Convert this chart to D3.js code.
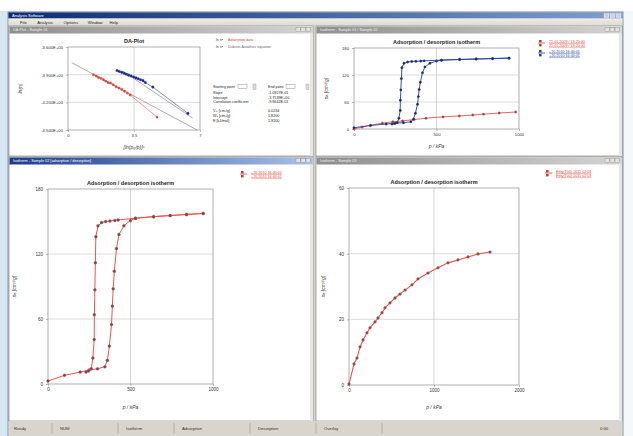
<!DOCTYPE html>
<html>
<head>
<meta charset="utf-8">
<script src="https://cdn.jsdelivr.net/npm/d3@7"></script>
<style>
  body { margin: 0; background: #fff; }
  svg { display: block; font-family: "Liberation Sans", "DejaVu Sans", sans-serif; }
</style>
</head>
<body>
<div id="chart"></div>
<script>
// ---- data ----
// DA plot: x = [ln(p0/p)]^n, y = ln(n)
const daRed = [[1.35,-3.90],[1.5,-3.915],[1.62,-3.93],[1.75,-3.94],[1.88,-3.955],[2.0,-3.97],[2.12,-3.985],
  [2.25,-3.99],[2.4,-4.01],[2.55,-4.03],[2.7,-4.045],[2.85,-4.06],[3.0,-4.08],[3.15,-4.10],[3.3,-4.12],[4.72,-4.36]];
const daBlue = [[2.6,-3.855],[2.72,-3.865],[2.85,-3.875],[2.98,-3.885],[3.1,-3.895],[3.22,-3.905],[3.35,-3.915],
  [3.48,-3.925],[3.6,-3.935],[3.72,-3.945],[3.85,-3.955],[3.98,-3.965],[4.1,-3.985],[4.5,-4.035],[6.36,-4.32]];
const daFitLong = [[0.2,-3.77],[6.85,-4.50]];
const daFitBlue = [[2.9,-3.86],[6.6,-4.37]];
const daXTicks = [0, 3.5, 7];
const daYTicks = [-3.6, -3.9, -4.2, -4.5];

// Isotherm 1 (p / kPa, n_a / cm3 g-1)
const iso1Ads = [[0,2.8],[100,8],[195,11],[250,13],[300,14],[345,16],[360,22],[372,35],[385,55],[390,72],[395,88],
  [402,104],[415,125],[430,138],[460,146],[500,151],[530,153],[640,154.5],[740,155.5],[840,156.5],[940,157.5]];
const iso1Des = [[940,157.5],[840,156.5],[740,155.5],[640,154.5],[530,153],[425,151.5],[405,151],[375,150.5],
  [350,150],[325,149],[303,146],[290,136],[287,112],[284,87],[281,64],[280,41],[272,24],[262,14],[245,12],[230,11]];
// Isotherm 2 (top right, red)
const iso2 = [[0,0],[50,4.4],[100,8],[172,13],[235,16],[294,18],[365,21],[436,24],[540,27],[638,29],[720,31],
  [785,33],[880,35.5],[980,37.8]];
// Isotherm 3 (bottom right)
const iso3 = [[0,0.3],[59,6.4],[94,8.2],[130,11.6],[165,13.7],[212,15.9],[247,17.4],[306,19.2],[341,20.4],
  [388,22],[424,23.5],[482,25],[541,26.5],[600,27.7],[660,28.9],[741,30.5],[812,32.3],[929,34.1],[1047,35.7],
  [1165,37.2],[1282,38.1],[1400,39.0],[1518,39.9],[1659,40.5]];

const isoXTicks = [0, 500, 1000];
const isoYTicks = [0, 60, 120, 180];
const iso3XTicks = [0, 1000, 2000];
const iso3YTicks = [0, 20, 40, 60];

const menuItems = ["File", "Analysis", "Options", "Window", "Help"];
const statsLabels = ["Slope", "Intercept", "Correlation coefficient", "", "V\u2098 [cm\u00b3/g]", "W\u2080 [cm\u00b3/g]", "E [kJ/mol]"];
const statsValues = ["-1.0927E-01", "-3.7539E+00", "-9.9642E-01", "", "0.0234", "1.8200", "1.9200"];
const statusItems = ["Ready", "NUM", "Isotherm", "Adsorption", "Desorption", "Overlay"];

const W = 633, H = 436;
const svg = d3.select("#chart").append("svg").attr("width", W).attr("height", H);
const defs = svg.append("defs");

function grad(id, c1, c2, vertical) {
  const g = defs.append("linearGradient").attr("id", id)
    .attr("x1", 0).attr("y1", 0).attr("x2", vertical ? 0 : 1).attr("y2", vertical ? 1 : 0);
  g.append("stop").attr("offset", "0%").attr("stop-color", c1);
  g.append("stop").attr("offset", "100%").attr("stop-color", c2);
}
grad("bgGrad", "#d6e6f3", "#f4f8fb", false);
grad("winTitle", "#0d2a72", "#7f9fcf", false);
grad("activeTitle", "#1c3c8a", "#a8c2e6", false);
grad("inactiveTitle", "#8e8e8e", "#d4d4d4", false);
grad("menuGrad", "#eeede6", "#dcdad0", true);

// background around the window
svg.append("rect").attr("width", W).attr("height", H).attr("fill", "url(#bgGrad)");
svg.append("rect").attr("width", W).attr("height", 11).attr("fill", "#ffffff");

// main window
svg.append("rect").attr("x", 8).attr("y", 12).attr("width", 615).attr("height", 424)
  .attr("fill", "#d4d0c8").attr("stroke", "#6a7a96").attr("stroke-width", 0.8);
svg.append("rect").attr("x", 8.5).attr("y", 12.5).attr("width", 614).attr("height", 6).attr("fill", "url(#winTitle)");
svg.append("text").attr("x", 12).attr("y", 17.2).attr("font-size", 4).attr("fill", "#fff").text("Analysis Software");
["#c9d3e6", "#c9d3e6", "#c9d3e6"].forEach((c, i) => {
  svg.append("rect").attr("x", 604 + i * 6).attr("y", 13.5).attr("width", 5).attr("height", 4.2)
    .attr("fill", c).attr("stroke", "#fff").attr("stroke-width", 0.3);
});
svg.append("rect").attr("x", 8.5).attr("y", 18.5).attr("width", 614).attr("height", 7).attr("fill", "url(#menuGrad)");
let mx = 20;
menuItems.forEach(m => {
  svg.append("text").attr("x", mx).attr("y", 23.7).attr("font-size", 4.2).attr("fill", "#222").text(m);
  mx += m.length * 2.3 + 8;
});

// MDI child panels
const panels = [
  { x: 9, y: 26, w: 304, h: 130, active: false, title: "DA-Plot - Sample 01" },
  { x: 316, y: 26, w: 306, h: 130, active: false, title: "Isotherm - Sample 01 / Sample 02" },
  { x: 9, y: 157, w: 304, h: 264, active: true, title: "Isotherm - Sample 02 [adsorption / desorption]" },
  { x: 316, y: 157, w: 306, h: 264, active: false, title: "Isotherm - Sample 03" }
];
panels.forEach(p => {
  svg.append("rect").attr("x", p.x).attr("y", p.y).attr("width", p.w).attr("height", p.h)
    .attr("fill", "#ffffff").attr("stroke", "#9a9a9a").attr("stroke-width", 0.8);
  svg.append("rect").attr("x", p.x + 0.5).attr("y", p.y + 0.5).attr("width", p.w - 1).attr("height", 7)
    .attr("fill", p.active ? "url(#activeTitle)" : "url(#inactiveTitle)");
  svg.append("text").attr("x", p.x + 4).attr("y", p.y + 5.4).attr("font-size", 3.8)
    .attr("fill", p.active ? "#fff" : "#eee").text(p.title);
  for (let i = 0; i < 3; i++) {
    svg.append("rect").attr("x", p.x + p.w - 17 + i * 5).attr("y", p.y + 1.5).attr("width", 4.2).attr("height", 4)
      .attr("fill", "#e4e2dc").attr("stroke", "#777").attr("stroke-width", 0.3);
  }
  // right window border strip
  svg.append("rect").attr("x", p.x + p.w - 3).attr("y", p.y + 8).attr("width", 3).attr("height", p.h - 8)
    .attr("fill", "#e8e6e0");
});

// status bar
svg.append("rect").attr("x", 8.5).attr("y", 421).attr("width", 614).attr("height", 15).attr("fill", "#d8d5cc");
let sx = 12;
const statusW = [40, 60, 50, 70, 60, 60];
statusItems.forEach((s, i) => {
  svg.append("text").attr("x", sx + 2).attr("y", 430).attr("font-size", 4.2).attr("fill", "#333").text(s);
  svg.append("line").attr("x1", sx + statusW[i]).attr("x2", sx + statusW[i]).attr("y1", 423).attr("y2", 434)
    .attr("stroke", "#8a8880").attr("stroke-width", 0.5);
  sx += statusW[i] + 6;
});
svg.append("text").attr("x", 600).attr("y", 430).attr("font-size", 4.2).attr("fill", "#333").text("0:00");

// ---- chart helper ----
function sciFmt(v) {
  const s = v.toExponential(3).replace("e", "E");
  return s.replace(/E([+-])(\d)$/, "E$10$2");
}

function drawChart(o) {
  const g = svg.append("g");
  const x = d3.scaleLinear().domain(o.xDomain).range([o.left, o.right]);
  const y = d3.scaleLinear().domain(o.yDomain).range([o.bottom, o.top]);

  // grid at inner ticks
  g.selectAll(".gx").data(o.xTicks.slice(1, -1)).join("line")
    .attr("x1", d => x(d)).attr("x2", d => x(d)).attr("y1", o.top).attr("y2", o.bottom)
    .attr("stroke", "#b8b8b8").attr("stroke-width", 0.6);
  g.selectAll(".gy").data(o.yTicks.filter(t => t !== o.yDomain[0] && t !== o.yDomain[1])).join("line")
    .attr("x1", o.left).attr("x2", o.right).attr("y1", d => y(d)).attr("y2", d => y(d))
    .attr("stroke", "#c4c4c4").attr("stroke-width", 0.6);
  g.append("rect").attr("x", o.left).attr("y", o.top).attr("width", o.right - o.left).attr("height", o.bottom - o.top)
    .attr("fill", "none").attr("stroke", "#8c8c8c").attr("stroke-width", 0.7);

  const xa = g.append("g").attr("transform", `translate(0,${o.bottom})`)
    .call(d3.axisBottom(x).tickValues(o.xTicks).tickSize(2).tickPadding(2).tickFormat(o.xFmt || (d => d)));
  const ya = g.append("g").attr("transform", `translate(${o.left},0)`)
    .call(d3.axisLeft(y).tickValues(o.yTicks).tickSize(2).tickPadding(3).tickFormat(o.yFmt || (d => d)));
  [xa, ya].forEach(a => {
    a.select(".domain").remove();
    a.selectAll("line").attr("stroke", "#777").attr("stroke-width", 0.5);
    a.selectAll("text").attr("font-size", o.tickSize || 4.5).attr("fill", "#333")
      .style("font-family", "'Liberation Sans', sans-serif");
  });

  g.append("text").attr("x", (o.left + o.right) / 2).attr("y", o.top - 4).attr("text-anchor", "middle")
    .attr("font-size", 5.5).attr("font-weight", "bold").attr("fill", "#222").text(o.title);
  g.append("text").attr("x", (o.left + o.right) / 2).attr("y", o.xLabelY).attr("text-anchor", "middle")
    .attr("font-size", 5).attr("font-style", "italic").attr("fill", "#333").text(o.xLabel);
  g.append("text").attr("transform", `translate(${o.yLabelX},${(o.top + o.bottom) / 2}) rotate(-90)`)
    .attr("text-anchor", "middle").attr("font-size", 5).attr("font-style", "italic").attr("fill", "#333").text(o.yLabel);
  return { g, x, y };
}

function series(c, data, color, markColor, r, width) {
  const line = d3.line().x(d => c.x(d[0])).y(d => c.y(d[1]));
  c.g.append("path").datum(data).attr("d", line).attr("fill", "none").attr("stroke", color)
    .attr("stroke-width", width || 0.9);
  c.g.selectAll(null).data(data).join("circle")
    .attr("cx", d => c.x(d[0])).attr("cy", d => c.y(d[1])).attr("r", r || 1.3)
    .attr("fill", markColor).attr("stroke", color).attr("stroke-width", 0.3);
}

function legend(x0, y0, entries) {
  entries.forEach((e, i) => {
    const yy = y0 + i * e.step;
    svg.append("line").attr("x1", x0).attr("x2", x0 + 7).attr("y1", yy + 1).attr("y2", yy + 1)
      .attr("stroke", e.color).attr("stroke-width", 0.8);
    svg.append("rect").attr("x", x0 + 1).attr("y", yy - 2).attr("width", 2.6).attr("height", 2.4).attr("fill", e.mark);
    svg.append("rect").attr("x", x0 + 1).attr("y", yy + 2).attr("width", 2.6).attr("height", 2.4).attr("fill", e.mark);
    e.lines.forEach((t, j) => {
      svg.append("text").attr("x", x0 + 11).attr("y", yy + 0.5 + j * 4.2).attr("font-size", 3.7)
        .attr("fill", e.color).attr("text-decoration", "underline").text(t);
    });
  });
}

// ---- top left: DA plot ----
const c1 = drawChart({
  left: 68, right: 200, top: 47, bottom: 130, xDomain: [0, 7], yDomain: [-4.5, -3.6],
  xTicks: daXTicks, yTicks: daYTicks, yFmt: sciFmt, xFmt: d => d,
  title: "DA-Plot", xLabel: "[ln(p\u2080/p)]\u207f", xLabelY: 149, yLabel: "ln(n)", yLabelX: 22, tickSize: 4.2
});
[daFitLong, daFitBlue].forEach(f => {
  c1.g.append("path").datum(f).attr("d", d3.line().x(d => c1.x(d[0])).y(d => c1.y(d[1])))
    .attr("stroke", "#8a8a8a").attr("stroke-width", 0.7).attr("fill", "none");
});
series(c1, daRed, "#e8564a", "#d8453c", 1.2, 0.6);
series(c1, daBlue, "#2c3f9e", "#1d2d80", 1.3, 0.6);
// TL legend
[["Adsorption data", "#d8453c"], ["Dubinin-Astakhov equation", "#666"]].forEach((e, i) => {
  const yy = 41 + i * 6.5;
  svg.append("text").attr("x", 216).attr("y", yy).attr("font-size", 3.6).attr("fill", "#444").text("ln n\u2022");
  svg.append("text").attr("x", 228).attr("y", yy).attr("font-size", 3.6).attr("fill", e[1]).text(e[0]);
});
// TL statistics block
svg.append("text").attr("x", 213).attr("y", 88).attr("font-size", 3.7).attr("fill", "#222").text("Starting point");
svg.append("rect").attr("x", 238).attr("y", 84.5).attr("width", 9).attr("height", 4).attr("fill", "#fff").attr("stroke", "#777").attr("stroke-width", 0.4);
svg.append("rect").attr("x", 253).attr("y", 84).attr("width", 3).attr("height", 5.5).attr("fill", "#ddd").attr("stroke", "#777").attr("stroke-width", 0.3);
svg.append("text").attr("x", 268).attr("y", 88).attr("font-size", 3.7).attr("fill", "#222").text("End point");
svg.append("rect").attr("x", 286).attr("y", 84.5).attr("width", 9).attr("height", 4).attr("fill", "#fff").attr("stroke", "#777").attr("stroke-width", 0.4);
svg.append("rect").attr("x", 306).attr("y", 84).attr("width", 3).attr("height", 5.5).attr("fill", "#ddd").attr("stroke", "#777").attr("stroke-width", 0.3);
statsLabels.forEach((l, i) => {
  const yy = 94 + i * 4.6;
  svg.append("text").attr("x", 213).attr("y", yy).attr("font-size", 3.7).attr("fill", "#222").text(l);
  svg.append("text").attr("x", 268).attr("y", yy).attr("font-size", 3.7).attr("fill", "#222").text(statsValues[i]);
});

// ---- top right: two isotherms ----
const c2 = drawChart({
  left: 354, right: 519, top: 48, bottom: 129, xDomain: [0, 1000], yDomain: [0, 180],
  xTicks: isoXTicks, yTicks: isoYTicks,
  title: "Adsorption / desorption isotherm", xLabel: "p / kPa", xLabelY: 148,
  yLabel: "n\u2090 [cm\u00b3/g]", yLabelX: 328, tickSize: 4.2
});
series(c2, iso2, "#e8564a", "#7a4a5a", 1.2, 0.9);
series(c2, iso1Ads, "#2c3f9e", "#22295a", 1.2, 0.9);
series(c2, iso1Des, "#2c3f9e", "#22295a", 1.2, 0.9);
legend(538, 42, [
  { color: "#d8453c", mark: "#c83a30", step: 10, lines: ["21.01.2009 / 13:20:00", "21.01.2009 / 13:20:00"] },
  { color: "#2c3f9e", mark: "#2c3f9e", step: 10, lines: ["+20.2010 16:40:01", "+20.2010 16:40:01"] }
]);

// ---- bottom left: isotherm with hysteresis ----
const c3 = drawChart({
  left: 48, right: 213, top: 189, bottom: 384, xDomain: [0, 1000], yDomain: [0, 180],
  xTicks: isoXTicks, yTicks: isoYTicks,
  title: "Adsorption / desorption isotherm", xLabel: "p / kPa", xLabelY: 409,
  yLabel: "n\u2090 [cm\u00b3/g]", yLabelX: 16, tickSize: 4.5
});
series(c3, iso1Ads, "#e8564a", "#6e4a58", 1.5, 1);
series(c3, iso1Des, "#e8564a", "#6e4a58", 1.5, 1);
legend(240, 173, [
  { color: "#d8453c", mark: "#c83a30", step: 10, lines: ["+20.2010 16:40:01", "+20.2010 16:40:01"] }
]);

// ---- bottom right: isotherm ----
const c4 = drawChart({
  left: 349, right: 519, top: 188, bottom: 385, xDomain: [0, 2000], yDomain: [0, 60],
  xTicks: iso3XTicks, yTicks: iso3YTicks,
  title: "Adsorption / desorption isotherm", xLabel: "p / kPa", xLabelY: 409,
  yLabel: "n\u2090 [cm\u00b3/g]", yLabelX: 325, tickSize: 4.5
});
series(c4, iso3, "#e8564a", "#7a4a5a", 1.4, 1.1);
legend(545, 172, [
  { color: "#d8453c", mark: "#c83a30", step: 10, lines: ["Ethy(T00) 2011 02:03", "Ethy(T00) 2011 02:03"] }
]);
</script>
</body>
</html>
